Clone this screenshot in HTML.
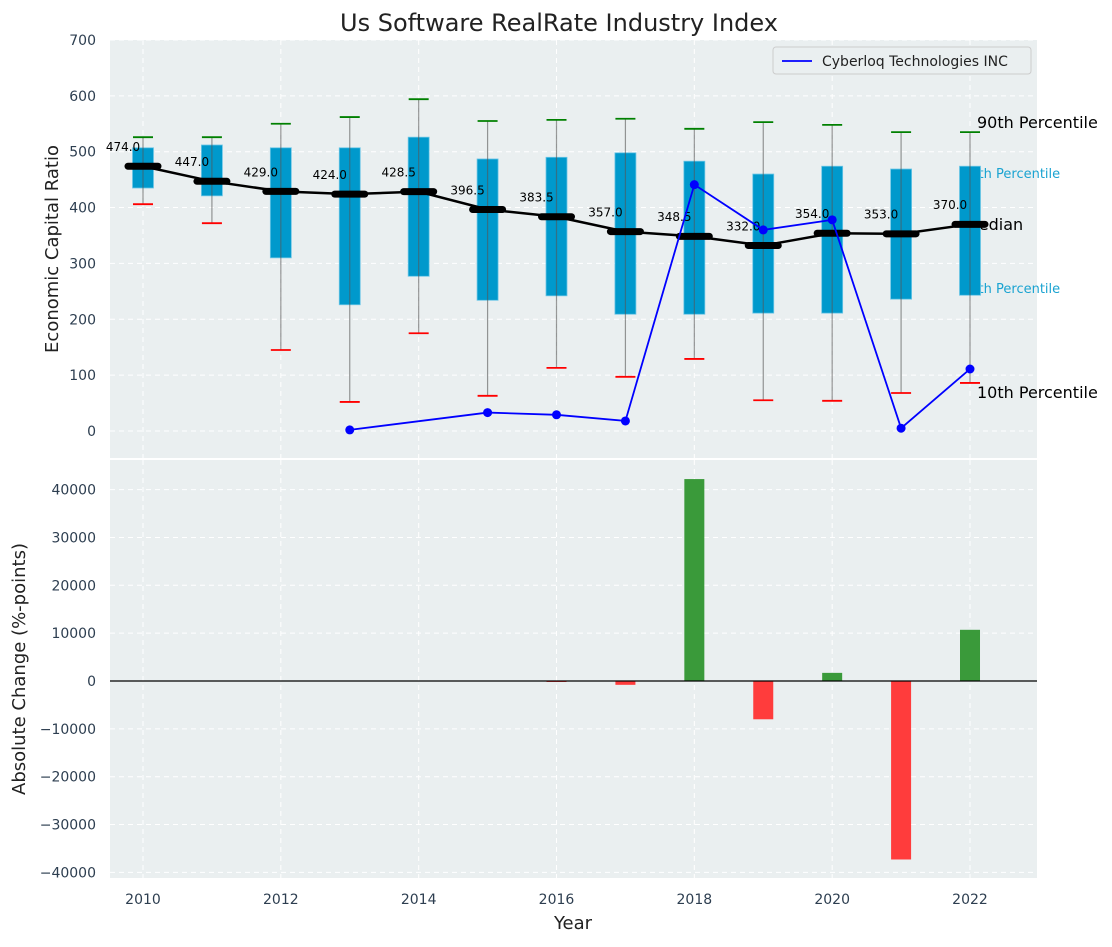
<!DOCTYPE html>
<html><head><meta charset="utf-8"><style>
body{margin:0;background:#fff;}
svg text{font-family:"DejaVu Sans","Liberation Sans",sans-serif;}
</style></head><body>
<svg id="c" width="1112" height="942" xmlns="http://www.w3.org/2000/svg"></svg>
<script>
const years=[2010,2011,2012,2013,2014,2015,2016,2017,2018,2019,2020,2021,2022];
const p10=[406,372,145,52,175,63,113,97,129,55,54,68,86];
const q25=[435,421,310,226,277,234,242,209,209,211,211,236,243];
const medians=[474,447,429,424,428.5,396.5,383.5,357,348.5,332,354,353,370];
const q75=[507,512,507,507,526,487,490,498,483,460,474,469,474];
const p90=[526,526,550,562,594,555,557,559,541,553,548,535,535];
const coYears=[2013,2015,2016,2017,2018,2019,2020,2021,2022];
const coValues=[2,33,29,18,441,360,378,5,111];
const chgYears=[2016,2017,2018,2019,2020,2021,2022];
const chgValues=[-200,-800,42200,-8000,1700,-37300,10700];
const yTicks1=[0,100,200,300,400,500,600,700];
const yTicks2=[-40000,-30000,-20000,-10000,0,10000,20000,30000,40000];
const xTicks=[2010,2012,2014,2016,2018,2020,2022];

const NS="http://www.w3.org/2000/svg";
const svg=document.getElementById('c');
function el(t,a,txt){const e=document.createElementNS(NS,t);for(const k in a)e.setAttribute(k,a[k]);if(txt!==undefined)e.textContent=txt;svg.appendChild(e);return e;}
const L=110,R=1037;
const X=v=>143+(v-2010)*68.917;
const Y1=v=>431-v*0.5586;
const Y2=v=>681-v*0.004785;
let e=el('rect',{x:L,y:40,width:R-L,height:418,fill:'#eaeff0'});

e=el('rect',{x:L,y:460,width:R-L,height:418,fill:'#eaeff0'});

yTicks1.forEach(t=>{el('line',{x1:L,x2:R,y1:Y1(t),y2:Y1(t),stroke:'#fff','stroke-dasharray':'5,4','stroke-width':1});
 e=el('text',{x:96,y:Y1(t)+5,'text-anchor':'end','font-size':14,fill:'#2d3e50'},t);
 });
yTicks2.forEach(t=>{el('line',{x1:L,x2:R,y1:Y2(t),y2:Y2(t),stroke:'#fff','stroke-dasharray':'5,4','stroke-width':1});
 e=el('text',{x:96,y:Y2(t)+5,'text-anchor':'end','font-size':14,fill:'#2d3e50'},t===0?'0':(t<0?'\u2212'+(-t):t));
 });
xTicks.forEach(t=>{el('line',{x1:X(t),x2:X(t),y1:40,y2:458,stroke:'#fff','stroke-dasharray':'5,4'});
 el('line',{x1:X(t),x2:X(t),y1:460,y2:878,stroke:'#fff','stroke-dasharray':'5,4'});
 e=el('text',{x:X(t),y:904,'text-anchor':'middle','font-size':14,fill:'#2d3e50'},t);
 });
const xa=X(2022)+7;
e=el('text',{x:xa,y:128,'font-size':16,fill:'#000'},'90th Percentile');
e=el('text',{x:xa-15,y:178,'font-size':13,fill:'#1aa3d1'},'75th Percentile');
e=el('text',{x:xa-15,y:293,'font-size':13,fill:'#1aa3d1'},'25th Percentile');
e=el('text',{x:xa-12,y:230,'font-size':16,fill:'#000'},'Median');
e=el('text',{x:xa,y:398,'font-size':16,fill:'#000'},'10th Percentile');
years.forEach((y,i)=>{
 const x=X(y);
 e=el('rect',{x:x-10.5,y:Y1(q75[i]),width:21,height:Y1(q25[i])-Y1(q75[i]),fill:'#0099cc',stroke:'#6cc6e6','stroke-width':0.8});
 
 e=el('line',{x1:x,x2:x,y1:Y1(p90[i]),y2:Y1(p10[i]),stroke:'#555','stroke-opacity':0.6,'stroke-width':1.2});
 
 e=el('line',{x1:x-10,x2:x+10,y1:Y1(p90[i]),y2:Y1(p90[i]),stroke:'green','stroke-width':1.8});
 
 e=el('line',{x1:x-10,x2:x+10,y1:Y1(p10[i]),y2:Y1(p10[i]),stroke:'red','stroke-width':1.8});
 
});
e=el('polyline',{points:years.map((y,i)=>X(y)+','+Y1(medians[i])).join(' '),fill:'none',stroke:'#000','stroke-width':2.5});

years.forEach((y,i)=>{
 e=el('line',{x1:X(y)-15,x2:X(y)+15,y1:Y1(medians[i]),y2:Y1(medians[i]),stroke:'#000','stroke-width':7,'stroke-linecap':'round'});
 
 e=el('text',{x:X(y)-20,y:Y1(medians[i]+36)+5,'text-anchor':'middle','font-size':12,fill:'#000'},medians[i].toFixed(1));
 
});
e=el('polyline',{points:coYears.map((y,i)=>X(y)+','+Y1(coValues[i])).join(' '),fill:'none',stroke:'blue','stroke-width':1.8});

coYears.forEach((y,i)=>{e=el('circle',{cx:X(y),cy:Y1(coValues[i]),r:4.5,fill:'blue'});
 });
e=el('rect',{x:773,y:47,width:258,height:27,fill:'#eaeff0',stroke:'#ccc',rx:3});

el('line',{x1:782,x2:812,y1:61,y2:61,stroke:'blue','stroke-width':1.8});
e=el('text',{x:822,y:66,'font-size':14,fill:'#222'},'Cyberloq Technologies INC');

chgYears.forEach((y,i)=>{const v=chgValues[i];const y0=Y2(0),y1=Y2(v);
 e=el('rect',{x:X(y)-10,y:Math.min(y0,y1),width:20,height:Math.max(1,Math.abs(y1-y0)),fill:v>=0?'#3a9a3a':'#ff3c3c'});
 });
el('line',{x1:L,x2:R,y1:Y2(0),y2:Y2(0),stroke:'#000','stroke-width':1.2});
e=el('text',{x:559,y:31,'text-anchor':'middle','font-size':24,fill:'#222'},'Us Software RealRate Industry Index');

e=el('text',{x:0,y:0,'text-anchor':'middle','font-size':18,fill:'#222',transform:'translate(58,249) rotate(-90)'},'Economic Capital Ratio');

e=el('text',{x:0,y:0,'text-anchor':'middle','font-size':18,fill:'#222',transform:'translate(25,669) rotate(-90)'},'Absolute Change (%-points)');

e=el('text',{x:573,y:929,'text-anchor':'middle','font-size':18,fill:'#222'},'Year');

</script>
</body></html>
